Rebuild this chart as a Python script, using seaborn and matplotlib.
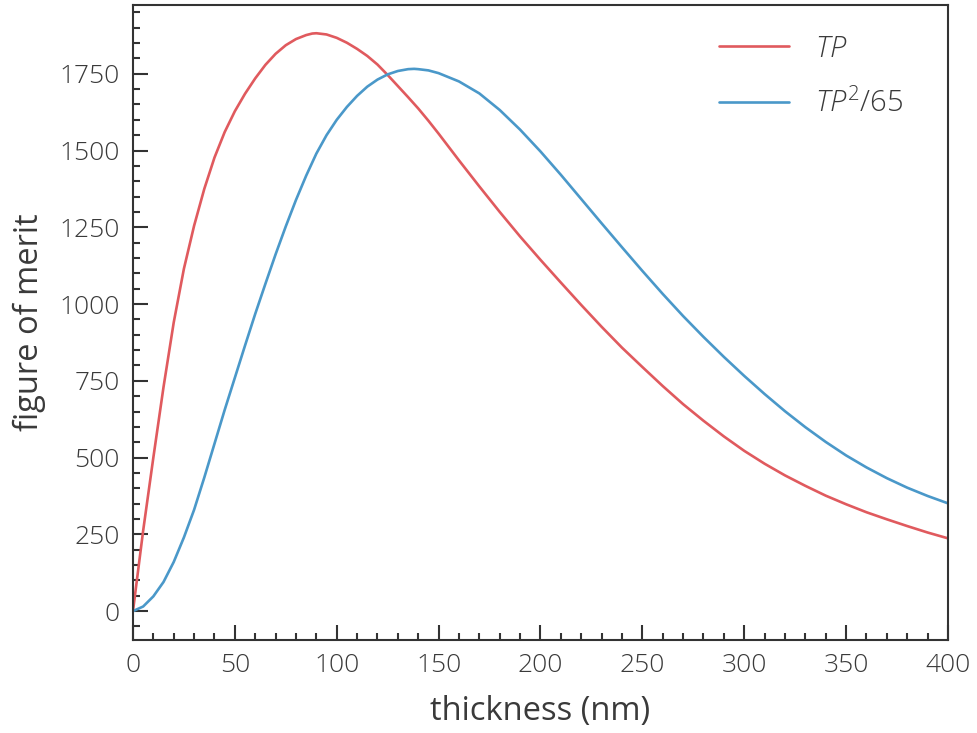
import numpy as np
import pandas as pd
import matplotlib
matplotlib.use("Agg")
import matplotlib.pyplot as plt
import seaborn as sns
from matplotlib.ticker import MultipleLocator

# thickness (nm) and figure of merit
tp_x = [0, 5, 10, 15, 20, 25, 30, 35, 40, 45, 50, 55, 60, 65, 70, 75, 80, 85, 88, 90, 95,
        100, 105, 110, 115, 120, 125, 130, 135, 140, 145, 150, 160, 170, 180, 190, 200,
        210, 220, 230, 240, 250, 260, 270, 280, 290, 300, 310, 320, 330, 340, 350, 360,
        370, 380, 390, 400]
tp_y = [0, 262, 500, 730, 940, 1115, 1255, 1375, 1477, 1560, 1628, 1685, 1735, 1779, 1815,
        1843, 1863, 1876, 1881, 1882, 1878, 1867, 1851, 1831, 1808, 1780, 1746, 1710, 1674,
        1637, 1597, 1555, 1468, 1383, 1300, 1220, 1144, 1070, 997, 926, 858, 795, 733, 674,
        620, 569, 522, 480, 442, 408, 376, 348, 322, 299, 277, 256, 237]

tp2_x = [0, 5, 10, 15, 20, 25, 30, 35, 40, 45, 50, 55, 60, 65, 70, 75, 80, 85, 90, 95,
         100, 105, 110, 115, 120, 125, 130, 135, 138, 140, 145, 150, 160, 170, 180, 190,
         200, 210, 220, 230, 240, 250, 260, 270, 280, 290, 300, 310, 320, 330, 340, 350,
         360, 370, 380, 390, 400]
tp2_y = [0, 15, 48, 95, 160, 240, 330, 435, 545, 655, 760, 865, 968, 1066, 1162, 1253, 1339,
         1418, 1490, 1550, 1600, 1642, 1678, 1708, 1731, 1748, 1759, 1765, 1766, 1765, 1761,
         1752, 1725, 1686, 1632, 1568, 1497, 1421, 1342, 1263, 1185, 1108, 1033, 961, 893,
         828, 766, 707, 651, 599, 551, 507, 468, 433, 402, 375, 351]

labels = [r"$TP$", r"$TP^2/65$"]
colors = ["#e05a5e", "#4a98c9"]

df = pd.concat([
    pd.DataFrame({"thickness": tp_x, "fom": tp_y, "series": labels[0]}),
    pd.DataFrame({"thickness": tp2_x, "fom": tp2_y, "series": labels[1]}),
])

sns.set_theme(style="ticks")
plt.rcParams["font.family"] = ["Open Sans", "DejaVu Sans"]
plt.rcParams["font.weight"] = "light"
plt.rcParams["mathtext.fontset"] = "custom"
plt.rcParams["mathtext.rm"] = "Open Sans:light"
plt.rcParams["mathtext.it"] = "Open Sans:italic:light"
text_color = "#3a3a3a"

fig = plt.figure(figsize=(9.77, 7.33), dpi=100)
ax = fig.add_axes([0.1361, 0.1269, 0.8342, 0.8663])

sns.lineplot(data=df, x="thickness", y="fom", hue="series", palette=colors,
             linewidth=1.9, ax=ax, sort=False)

ax.set_xlim(0, 400)
ax.set_ylim(-94, 1974)
ax.xaxis.set_major_locator(MultipleLocator(50))
ax.xaxis.set_minor_locator(MultipleLocator(10))
ax.yaxis.set_major_locator(MultipleLocator(250))
ax.yaxis.set_minor_locator(MultipleLocator(50))
ax.tick_params(which="both", direction="in", colors="#333333", labelcolor=text_color,
               top=False, right=False, width=1.5)
ax.tick_params(which="major", length=11, labelsize=19, pad=9.5)
ax.tick_params(which="minor", length=5)
for s in ax.spines.values():
    s.set_color("#333333")
    s.set_linewidth(1.5)

ax.set_xlabel("thickness (nm)", fontsize=23.5, color=text_color, labelpad=12)
ax.set_ylabel("figure of merit", fontsize=23.5, color=text_color, labelpad=10)

leg = ax.legend(frameon=False, fontsize=21, loc="upper right", handlelength=2.4,
                handletextpad=0.9, labelspacing=0.85, borderaxespad=0.6,
                bbox_to_anchor=(0.981, 1.0))
for t in leg.get_texts():
    t.set_color(text_color)
for l in leg.get_lines():
    l.set_linewidth(1.9)

fig.savefig("out.png", dpi=100)
